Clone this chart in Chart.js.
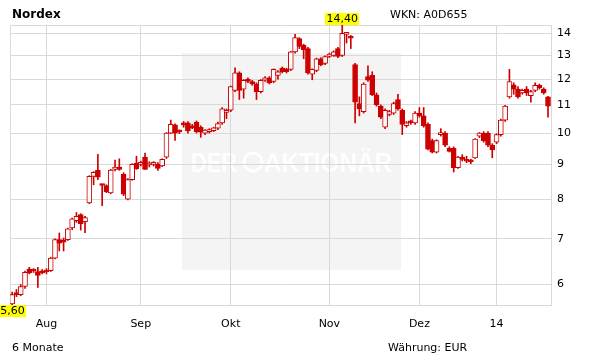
<!DOCTYPE html>
<html><head><meta charset="utf-8">
<script src="https://cdn.jsdelivr.net/npm/chart.js@4/dist/chart.umd.min.js"></script>
<style>html,body{margin:0;padding:0;background:#fff}#wrap{width:611px;height:364px;position:relative}</style>
</head><body><div id="wrap"><canvas id="c" width="611" height="364"></canvas></div>
<script>
// Trading-day candles (index 0 = first day shown, late July 2013)
const opens=[5.62,5.84,5.80,5.96,6.32,6.30,6.27,6.28,6.30,6.29,
6.56,6.98,6.97,6.98,7.26,7.44,7.60,7.42,7.90,8.64,
8.82,8.41,8.38,8.17,8.85,8.92,8.70,8.00,8.55,9.04,
9.00,9.22,8.98,9.00,9.00,8.95,9.22,10.00,10.28,10.05,
10.35,10.35,10.22,10.38,10.20,10.00,10.05,10.08,10.17,10.35,
10.72,10.80,11.55,12.25,11.60,12.00,11.90,11.80,11.50,11.95,
12.05,11.90,12.15,12.45,12.40,12.40,13.15,13.75,13.45,13.30,
12.20,12.35,12.85,12.65,12.95,13.00,13.30,13.00,13.95,13.82,
12.60,11.05,10.75,12.10,12.15,11.38,10.95,10.20,10.65,10.70,
11.20,10.80,10.25,10.40,10.35,10.70,10.60,10.30,9.75,9.38,
9.95,10.00,9.50,9.50,8.90,9.22,9.15,9.10,9.20,9.90,
10.00,10.00,9.60,9.70,9.95,10.45,11.30,11.77,11.60,11.45,
11.60,11.35,11.55,11.75,11.60,11.30];
const highs=[5.85,5.90,6.00,6.28,6.36,6.33,6.36,6.31,6.33,6.58,
7.00,7.14,7.02,7.26,7.51,7.65,7.62,7.55,8.66,8.78,
9.31,8.42,8.40,8.85,9.13,9.17,8.75,8.58,9.02,9.25,
9.10,9.35,9.08,9.08,9.05,9.17,10.02,10.45,10.32,10.10,
10.40,10.40,10.30,10.42,10.25,10.12,10.15,10.20,10.38,10.90,
10.85,11.72,12.46,12.30,11.98,12.05,11.95,11.85,11.98,12.10,
12.10,12.42,12.35,12.50,12.45,13.18,13.95,13.80,13.50,13.35,
12.42,12.88,12.90,12.98,13.10,13.20,13.35,14.40,14.05,13.90,
12.65,11.30,11.85,12.55,12.30,11.45,11.00,10.85,10.80,11.10,
11.40,10.85,10.40,10.45,10.75,10.90,10.90,10.35,9.80,9.78,
10.15,10.05,9.55,9.55,9.25,9.30,9.25,9.15,9.82,10.02,
10.05,10.05,9.65,9.98,10.48,10.98,12.40,11.85,11.70,11.60,
11.70,11.55,11.85,11.80,11.65,11.32];
const lows=[5.60,5.76,5.78,5.92,6.22,6.25,5.94,6.22,6.22,6.27,
6.54,6.72,6.72,6.96,7.22,7.40,7.21,7.15,7.88,8.40,
8.55,7.83,8.18,8.15,8.80,8.82,8.10,7.98,8.53,8.85,
8.95,8.85,8.92,8.95,8.82,8.93,9.18,9.98,9.76,9.98,
10.20,10.00,10.15,10.00,9.86,9.95,10.00,10.05,10.12,10.30,
10.50,10.75,11.50,11.20,11.25,11.85,11.75,11.20,11.45,11.90,
11.80,11.85,12.00,12.25,12.25,12.35,13.10,13.30,12.85,12.20,
11.97,12.30,12.55,12.60,12.90,12.95,12.90,12.95,13.55,13.30,
10.35,10.60,10.70,11.90,11.35,10.95,10.50,10.15,10.60,10.65,
10.80,9.95,10.20,10.30,10.30,10.55,10.20,9.45,9.35,9.35,
9.90,9.55,9.38,8.77,8.88,9.10,9.05,9.02,9.18,9.85,
9.70,9.55,9.20,9.65,9.90,10.40,11.25,11.40,11.25,11.40,
11.35,11.10,11.50,11.60,11.40,10.55];
const closes=[5.80,5.80,5.96,6.25,6.24,6.28,6.19,6.24,6.26,6.56,
6.98,6.90,6.92,7.24,7.49,7.55,7.37,7.52,8.64,8.76,
8.62,8.38,8.20,8.83,8.92,8.85,8.14,8.55,9.00,8.87,
9.05,8.85,9.03,9.05,8.88,9.15,10.00,10.30,10.00,10.04,
10.28,10.07,10.18,10.05,10.03,10.10,10.12,10.18,10.33,10.85,
10.80,11.70,12.25,11.55,11.95,11.90,11.80,11.50,11.95,12.05,
11.85,12.40,12.30,12.30,12.30,13.15,13.80,13.40,13.25,12.25,
12.40,12.85,12.60,12.95,13.05,13.15,12.95,14.00,14.00,13.78,
11.10,10.85,11.80,11.95,11.38,11.00,10.55,10.80,10.75,11.05,
10.85,10.30,10.35,10.35,10.70,10.60,10.25,9.47,9.38,9.75,
10.00,9.60,9.40,8.90,9.22,9.15,9.10,9.08,9.80,10.00,
9.75,9.60,9.45,9.95,10.45,10.95,11.90,11.60,11.30,11.55,
11.45,11.50,11.75,11.65,11.45,10.95];
// x-axis: first trading day of each month (index) and its label
const monthTickIndex=[8,30,51,74,95,113];
const monthLabels=['Aug','Sep','Okt','Nov','Dez','14'];
const yTicks=[6,7,8,9,10,11,12,13,14];

const RED='#cc0000', GRID='#d9d9d9', FONT='"DejaVu Sans", Verdana, sans-serif';
const idx=opens.map((_,i)=>i);
const wickData=idx.map(i=>({x:i,y:[lows[i],highs[i]]}));
const bodyData=idx.map(i=>({x:i,y:[opens[i],closes[i]]}));
const bodyFill=idx.map(i=>closes[i]>=opens[i]?'#ffffff':RED);
const fmt=v=>v.toFixed(2).replace('.',',');

const deco={
  id:'deco',
  beforeDraw(chart){
    const {ctx,chartArea:a}=chart;
    ctx.save();
    ctx.fillStyle='#fff';ctx.fillRect(0,0,chart.width,chart.height);
    const x0=a.left+a.width*0.318,x1=a.left+a.width*0.723,y0=a.top+a.height*0.1,y1=a.top+a.height*0.875;
    ctx.fillStyle='#f4f4f4';ctx.fillRect(x0,y0,x1-x0,y1-y0);
    ctx.fillStyle='rgba(255,255,255,0.85)';ctx.strokeStyle='rgba(255,255,255,0.85)';
    ctx.font='bold 27px "Liberation Sans", Arial, sans-serif';ctx.textBaseline='alphabetic';ctx.textAlign='left';
    ctx.fillText('DER',191,172,46);
    ctx.lineWidth=3;ctx.beginPath();ctx.arc(253,162,9,0,Math.PI*2);ctx.stroke();
    ctx.fillText('AKTIONÄR',264,172,128);
    ctx.restore();
  },
  beforeDatasetsDraw(chart){
    const {ctx,chartArea:a}=chart;
    ctx.save();ctx.strokeStyle=GRID;ctx.lineWidth=1;
    ctx.beginPath();ctx.moveTo(a.left,a.top+0.5);ctx.lineTo(a.right,a.top+0.5);
    ctx.moveTo(a.left+0.5,a.top);ctx.lineTo(a.left+0.5,a.bottom);ctx.stroke();
    ctx.restore();
  },
  afterDraw(chart){
    const {ctx}=chart;const xs=chart.scales.x,ys=chart.scales.y;
    ctx.save();
    ctx.fillStyle='#000';ctx.textBaseline='alphabetic';ctx.textAlign='left';
    ctx.font='bold 12px '+FONT;ctx.fillText('Nordex',12,18);
    ctx.font='11px '+FONT;ctx.fillText('WKN: A0D655',390,18);
    ctx.fillText('6 Monate',12,351);
    ctx.fillText('Währung: EUR',388,351);
    const hi=Math.max(...highs),lo=Math.min(...lows);
    const iMax=highs.indexOf(hi),iMin=lows.indexOf(lo);
    const tag=(txt,cx,top)=>{
      ctx.font='11px '+FONT;const w=ctx.measureText(txt).width+3;
      ctx.fillStyle='#ffff00';ctx.fillRect(Math.round(cx-w/2),top,Math.round(w),12);
      ctx.fillStyle='#000';ctx.textAlign='center';ctx.textBaseline='middle';
      ctx.fillText(txt,cx,top+6.5);
    };
    tag(fmt(hi),xs.getPixelForValue(iMax),ys.getPixelForValue(hi)-12);
    tag(fmt(lo),Math.max(12.5,xs.getPixelForValue(iMin)),ys.getPixelForValue(lo));
    ctx.restore();
  }
};

new Chart(document.getElementById('c'),{
  type:'bar',
  data:{datasets:[
    {data:wickData,backgroundColor:RED,barThickness:1,grouped:false,order:2,borderWidth:0},
    {data:bodyData,backgroundColor:bodyFill,borderColor:RED,borderWidth:1,borderSkipped:false,barThickness:5,grouped:false,order:1,minBarLength:2}
  ]},
  options:{
    responsive:false,animation:false,devicePixelRatio:1,
    layout:{padding:{left:10,top:25,right:0,bottom:0}},
    plugins:{legend:{display:false},tooltip:{enabled:false}},
    scales:{
      x:{type:'linear',min:-0.5,max:125.7,offset:false,
        afterBuildTicks(ax){ax.ticks=monthTickIndex.map(v=>({value:v}));},
        afterFit(ax){ax.height=59;},
        grid:{color:GRID,drawTicks:false,offset:false},border:{color:GRID},
        ticks:{autoSkip:false,maxRotation:0,padding:13,color:'#000',font:{family:FONT,size:11},callback:(v,i)=>monthLabels[i]}},
      y:{type:'logarithmic',position:'right',min:5.6,max:14.4,
        afterBuildTicks(ax){ax.ticks=yTicks.map(v=>({value:v}));},
        afterFit(ax){ax.width=60;},
        grid:{color:GRID,drawTicks:false},border:{color:GRID},
        ticks:{autoSkip:false,padding:6,color:'#000',font:{family:FONT,size:11},callback:v=>String(v)}}
    }
  },
  plugins:[deco]
});
</script></body></html>
